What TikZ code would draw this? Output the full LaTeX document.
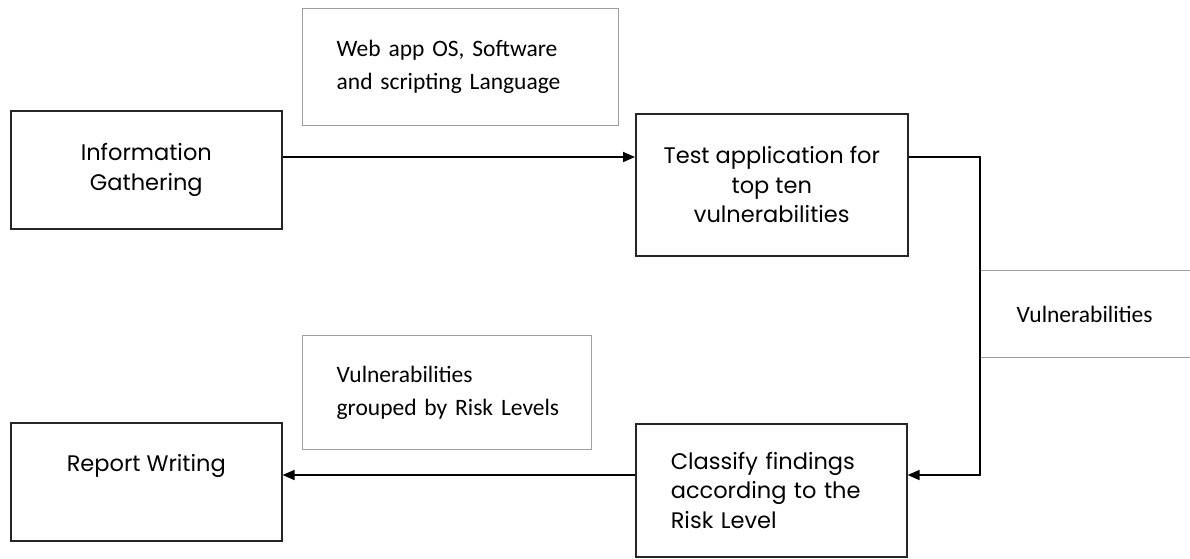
\documentclass[tikz,border=0pt]{standalone}
\usepackage{fontspec}
\usepackage{tikz}
\usetikzlibrary{arrows.meta,positioning,calc}
\newfontfamily\gothic{Poppins}
\newfontfamily\calib{Carlito}

\tikzset{
  stage/.style={draw=black!85,line width=1.6pt,inner sep=0pt,anchor=north west,
    font=\gothic\fontsize{22.5}{29.5}\selectfont},
  note/.style={draw=black!38,line width=1.3pt,inner ysep=0pt,anchor=north west,
    align=left,font=\calib\fontsize{23.5}{33}\selectfont},
  flow/.style={line width=1.6pt,-{Triangle[length=12pt,width=10pt]}}
}

\begin{document}
\begin{tikzpicture}[x=1pt,y=-1pt]
\useasboundingbox (0,0) rectangle (1190,558);

% main steps
\node[stage,align=center,minimum width=271pt,minimum height=118pt] (info) at (10,110) {Information\\Gathering};
\node[stage,align=center,minimum width=272pt,minimum height=142pt] (test) at (635,113) {Test application for\\top ten\\vulnerabilities};
\node[stage,align=left,text width=201pt,inner xsep=35pt,minimum height=133pt] (classify) at (635,423) {Classify findings\\according to the\\Risk Level};
\node[stage,align=center,minimum width=271pt,minimum height=118pt] (report) at (10,422) {Report Writing\\ \strut};

% side notes
\node[note,text width=248pt,inner xsep=34pt,minimum height=117pt] (osinfo) at (302,8) {Web app OS, Software\\and scripting Language};
\node[note,text width=221pt,inner xsep=34pt,minimum height=114pt] (grouped) at (302,335) {Vulnerabilities\\\mbox{grouped by Risk Levels}};
\node[note,text width=180pt,inner xsep=36pt,minimum height=87pt] (vul) at (980,270) {Vulnerabilities};

% connectors
\coordinate (upper) at (0,157);
\coordinate (lower) at (0,475);
\draw[flow] (info.east |- upper) -- (test.west |- upper);
\draw[flow] (test.east |- upper) -| (vul.west) |- (classify.east |- lower);
\draw[flow] (classify.west |- lower) -- (report.east |- lower);
\end{tikzpicture}
\end{document}
